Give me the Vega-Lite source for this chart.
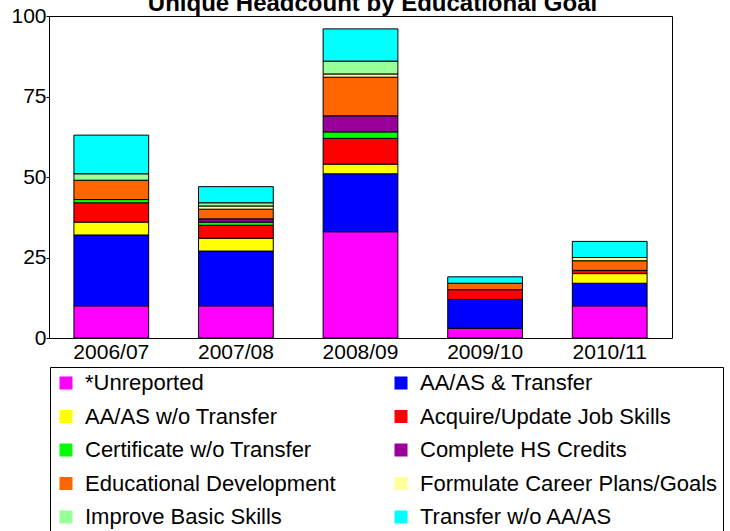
{
  "$schema": "https://vega.github.io/schema/vega-lite/v6.json",
  "autosize": "none",
  "width": 623,
  "height": 322,
  "padding": {"left": 49, "top": 16, "right": 58, "bottom": 193},
  "background": "white",
  "title": {
    "text": "Unique Headcount by Educational Goal",
    "font": "Liberation Sans",
    "fontSize": 24,
    "fontWeight": "bold",
    "color": "black",
    "anchor": "middle",
    "frame": "group",
    "dx": 12,
    "baseline": "alphabetic",
    "offset": -30
  },
  "config": {
    "font": "Liberation Sans",
    "view": {"stroke": "black", "strokeWidth": 1}
  },
  "data": {
    "values": [
      {"year": "2006/07", "goal": "*Unreported", "count": 10},
      {"year": "2006/07", "goal": "AA/AS & Transfer", "count": 22},
      {"year": "2006/07", "goal": "AA/AS w/o Transfer", "count": 4},
      {"year": "2006/07", "goal": "Acquire/Update Job Skills", "count": 6},
      {"year": "2006/07", "goal": "Certificate w/o Transfer", "count": 1},
      {"year": "2006/07", "goal": "Educational Development", "count": 6},
      {"year": "2006/07", "goal": "Improve Basic Skills", "count": 2},
      {"year": "2006/07", "goal": "Transfer w/o AA/AS", "count": 12},
      {"year": "2007/08", "goal": "*Unreported", "count": 10},
      {"year": "2007/08", "goal": "AA/AS & Transfer", "count": 17},
      {"year": "2007/08", "goal": "AA/AS w/o Transfer", "count": 4},
      {"year": "2007/08", "goal": "Acquire/Update Job Skills", "count": 4},
      {"year": "2007/08", "goal": "Certificate w/o Transfer", "count": 1},
      {"year": "2007/08", "goal": "Complete HS Credits", "count": 1},
      {"year": "2007/08", "goal": "Educational Development", "count": 3},
      {"year": "2007/08", "goal": "Formulate Career Plans/Goals", "count": 1},
      {"year": "2007/08", "goal": "Improve Basic Skills", "count": 1},
      {"year": "2007/08", "goal": "Transfer w/o AA/AS", "count": 5},
      {"year": "2008/09", "goal": "*Unreported", "count": 33},
      {"year": "2008/09", "goal": "AA/AS & Transfer", "count": 18},
      {"year": "2008/09", "goal": "AA/AS w/o Transfer", "count": 3},
      {"year": "2008/09", "goal": "Acquire/Update Job Skills", "count": 8},
      {"year": "2008/09", "goal": "Certificate w/o Transfer", "count": 2},
      {"year": "2008/09", "goal": "Complete HS Credits", "count": 5},
      {"year": "2008/09", "goal": "Educational Development", "count": 12},
      {"year": "2008/09", "goal": "Formulate Career Plans/Goals", "count": 1},
      {"year": "2008/09", "goal": "Improve Basic Skills", "count": 4},
      {"year": "2008/09", "goal": "Transfer w/o AA/AS", "count": 10},
      {"year": "2009/10", "goal": "*Unreported", "count": 3},
      {"year": "2009/10", "goal": "AA/AS & Transfer", "count": 9},
      {"year": "2009/10", "goal": "Acquire/Update Job Skills", "count": 3},
      {"year": "2009/10", "goal": "Educational Development", "count": 2},
      {"year": "2009/10", "goal": "Transfer w/o AA/AS", "count": 2},
      {"year": "2010/11", "goal": "*Unreported", "count": 10},
      {"year": "2010/11", "goal": "AA/AS & Transfer", "count": 7},
      {"year": "2010/11", "goal": "AA/AS w/o Transfer", "count": 3},
      {"year": "2010/11", "goal": "Acquire/Update Job Skills", "count": 1},
      {"year": "2010/11", "goal": "Educational Development", "count": 3},
      {"year": "2010/11", "goal": "Formulate Career Plans/Goals", "count": 1},
      {"year": "2010/11", "goal": "Transfer w/o AA/AS", "count": 5}
    ]
  },
  "mark": {"type": "bar", "stroke": "black", "strokeWidth": 1},
  "encoding": {
    "x": {
      "field": "year",
      "type": "nominal",
      "scale": {"paddingInner": 0.4, "paddingOuter": 0.2},
      "axis": {
        "title": null,
        "labelAngle": 0,
        "labelFontSize": 21,
        "labelColor": "black",
        "labelFont": "Liberation Sans",
        "ticks": false,
        "domain": false,
        "labelPadding": 3
      }
    },
    "y": {
      "field": "count",
      "type": "quantitative",
      "aggregate": "sum",
      "stack": "zero",
      "scale": {"domain": [0, 100], "nice": false},
      "axis": {
        "title": null,
        "values": [0, 25, 50, 75, 100],
        "grid": false,
        "domain": false,
        "tickSize": 3,
        "tickColor": "black",
        "labelFontSize": 21,
        "labelColor": "black",
        "labelFont": "Liberation Sans",
        "labelPadding": 0
      }
    },
    "color": {
      "field": "goal",
      "type": "nominal",
      "scale": {
        "domain": ["*Unreported", "AA/AS & Transfer", "AA/AS w/o Transfer", "Acquire/Update Job Skills", "Certificate w/o Transfer", "Complete HS Credits", "Educational Development", "Formulate Career Plans/Goals", "Improve Basic Skills", "Transfer w/o AA/AS"],
        "range": ["#FF00FF", "#0000FF", "#FFFF00", "#FF0000", "#00FF00", "#990099", "#FF6600", "#FFFF99", "#99FF99", "#00FFFF"]
      },
      "legend": {
        "title": null,
        "orient": "none",
        "legendX": 1,
        "legendY": 351,
        "columns": 2,
        "direction": "horizontal",
        "symbolType": "square",
        "symbolSize": 169,
        "symbolStrokeWidth": 0,
        "labelFontSize": 22,
        "labelFont": "Liberation Sans",
        "labelColor": "black",
        "labelOffset": 8,
        "labelLimit": 400,
        "columnPadding": 54,
        "rowPadding": 11.5,
        "padding": 5,
        "strokeColor": "black",
        "fillColor": "white"
      }
    },
    "order": {"field": "goal", "sort": "ascending"}
  }
}
